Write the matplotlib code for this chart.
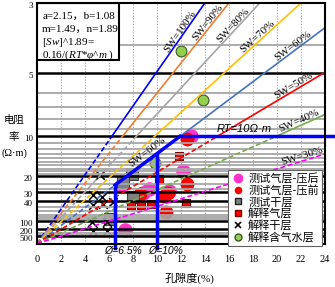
import numpy as np
import matplotlib.pyplot as plt
import matplotlib.transforms as mtransforms
from matplotlib.lines import Line2D

plt.rcParams['font.family'] = ['Liberation Serif', 'Noto Sans CJK SC']
plt.rcParams['mathtext.fontset'] = 'custom'
plt.rcParams['mathtext.rm'] = 'Liberation Serif'
plt.rcParams['mathtext.it'] = 'Liberation Serif:italic'

# 参数
a, b, m, n = 2.15, 1.08, 1.49, 1.89
ab = 0.16   # 图中公式: Sw^n = 0.16/(RT*phi^m)

# 含水饱和度线
sw_list = [1.0, 0.9, 0.8, 0.7, 0.6, 0.5, 0.4, 0.3]
sw_names = ['SW=100%', 'SW=90%', 'SW=80%', 'SW=70%', 'SW=60%', 'SW=50%', 'SW=40%', 'SW=30%']
sw_colors = ['#0000FF', '#ED7D31', '#A5A5A5', '#FFC000', '#4472C4', '#FF0000', '#70AD47', '#FF00FF']
sw_label_phi = [12.2, 14.5, 16.6, 18.6, 21.6, 21.6, 22.0, 22.2]

# y 轴刻度 / 网格 (电阻率)
ytick_vals = [3, 5, 10, 20, 30, 40, 100, 200, 500]
black_grid = [5, 10, 20, 30, 40, 100, 200, 500]
gray_grid = [4, 6, 7, 8, 9, 11, 12, 13, 14, 15, 16, 17, 18, 19, 24, 27,
             50, 60, 70, 80, 90, 300, 400]

# 测试气层-压后 (孔隙度 %, 电阻率)
yh_phi = [12.8, 12.2, 11.0, 7.0, 9.3, 8.8, 7.3]
yh_r = [10.0, 17.7, 29.0, 25.5, 27.0, 31.0, 210]
# 测试气层-压前
yq_phi = [12.5, 12.5, 10.9, 10.75, 8.6, 10.6]
yq_r = [10.3, 23.7, 30.9, 62.6, 32.0, 34.0]
# 测试干层
gc_phi = [7.9, 7.2, 8.0, 6.1]
gc_r = [19.2, 23.0, 34.8, 90.6]
# 解释气层
jq_phi = [11.8, 10.2, 12.4, 7.8, 8.7, 9.5]
jq_r = [13.6, 21.4, 43.1, 45.0, 45.0, 44.0]
# 解释干层
jg_phi = [5.25, 4.67, 5.42, 6.33, 4.67, 5.5, 4.58, 5.83, 4.67, 5.83]
jg_r = [19.6, 32.7, 34.8, 41.1, 46.3, 44.6, 109, 109, 243, 243]
# 解释含气水层
jw_phi = [12.0, 13.8, 9.8]
jw_r = [4.18, 6.46, 15.4]

# 截止值
phi_cut1, phi_cut2, rt_cut, sw_cut = 6.5, 10, 10, 0.6


def ty(r):
    return np.asarray(r, dtype=float) ** (-1 / m)


def coef(sw):
    return (sw ** n / ab) ** (1 / m) / 100   # y = coef * phi(%)


fig = plt.figure(figsize=(3.35, 2.87), dpi=100)
ax = fig.add_axes([0.1104, 0.1512, 0.8597, 0.838])
ax.set_xlim(0, 24)
ax.set_ylim(0, float(ty(3)))

# 网格
for x in range(2, 24, 2):
    ax.axvline(x, color='#A0A0A0', ls=(0, (1, 1.5)), lw=0.8, zorder=1)

# 数据点
ax.scatter(yh_phi, ty(yh_r), s=110, c='#FF33CC', lw=0, zorder=2)
ax.scatter(yq_phi, ty(yq_r), s=100, c='#FF0000', lw=0, zorder=2.05)
ax.scatter(gc_phi, ty(gc_r), s=80, marker='s', c='#808080', edgecolors='#404040', lw=0.8, zorder=2.1)
ax.scatter(jq_phi, ty(jq_r), s=36, marker='s', c='#FF0000', edgecolors='#800000', lw=0.8, zorder=2.1)
ax.scatter(jg_phi, ty(jg_r), s=40, marker='x', c='black', lw=1.1, zorder=2.1)
ax.scatter(jw_phi, ty(jw_r), s=60, c='#92D050', edgecolors='#385723', lw=0.8, zorder=2.1)

for r in gray_grid:
    ax.axhline(ty(r), color='#A6A6A6', lw=1.3, zorder=2.2)
for r in black_grid:
    ax.axhline(ty(r), color='black', lw=1.8, zorder=2.3)

# 饱和度线: RT>10 段虚线, RT<10 段实线
y10 = float(ty(rt_cut))
for sw, name, col, lp in zip(sw_list, sw_names, sw_colors, sw_label_phi):
    k = coef(sw)
    p10 = y10 / k
    ax.plot([0, p10], [0, y10], color=col, lw=1.2, ls=(0, (3, 1.5)), zorder=2.5)
    ax.plot([p10, 24], [y10, k * 24], color=col, lw=1.2, zorder=2.5)
    p0 = ax.transData.transform((0, 0))
    p1 = ax.transData.transform((10, k * 10))
    ang = np.degrees(np.arctan2(p1[1] - p0[1], p1[0] - p0[0]))
    ax.text(lp, k * lp, name, rotation=ang, rotation_mode='anchor',
            ha='center', va='bottom', fontsize=8, zorder=3)

# 截止线
kc = coef(sw_cut)
ax.plot([phi_cut1, phi_cut1], [-0.008, kc * phi_cut1], color='#0000FF', lw=2.5, zorder=4, clip_on=False)
ax.plot([phi_cut2, phi_cut2], [-0.008, kc * phi_cut2], color='#0000FF', lw=2.5, zorder=4, clip_on=False)
ax.plot([phi_cut1, y10 / kc], [kc * phi_cut1, y10], color='#0000FF', lw=2.5, zorder=4)
ax.plot([y10 / kc, 24.7], [y10, y10], color='#0000FF', lw=2.5, zorder=4, clip_on=False)

p0 = ax.transData.transform((0, 0))
p1 = ax.transData.transform((10, kc * 10))
ang = np.degrees(np.arctan2(p1[1] - p0[1], p1[0] - p0[0]))
ax.text(9.4, kc * 9.4 + 0.006, 'SW=60%', rotation=ang, rotation_mode='anchor',
        ha='center', va='bottom', fontsize=8, zorder=5)
ax.text(17.3, y10 + 0.004, 'RT=10Ω·m', family='Liberation Sans', style='italic',
        ha='center', va='bottom', fontsize=8, zorder=5)
ax.text(7.2, -0.004, 'Ø=6.5%', family='Liberation Sans', style='italic',
        ha='center', va='top', fontsize=7.5, zorder=5)
ax.text(10.7, -0.004, 'Ø=10%', family='Liberation Sans', style='italic',
        ha='center', va='top', fontsize=7.5, zorder=5)

# 公式框
ax.add_patch(plt.Rectangle((0, 0.765), 0.285, 0.235, transform=ax.transAxes,
                           facecolor='white', edgecolor='black', lw=1.5, zorder=6))
ax.text(0.018, 0.946, 'a=2.15，b=1.08', transform=ax.transAxes, va='center', fontsize=8, zorder=7)
ax.text(0.018, 0.892, 'm=1.49，n=1.89', transform=ax.transAxes, va='center', fontsize=8, zorder=7)
ax.text(0.018, 0.838, r'[$Sw$]^1.89=', transform=ax.transAxes, va='center', fontsize=8, zorder=7)
ax.text(0.018, 0.784, r'0.16/($RT$*$\varphi$^$m$ )', transform=ax.transAxes, va='center', fontsize=8, zorder=7)

# 坐标轴
ax.set_xticks(range(0, 25, 2))
ax.set_yticks(ty(ytick_vals))
ax.set_yticklabels([str(v) for v in ytick_vals])
ax.tick_params(length=0, labelsize=7.5)
ax.tick_params(axis='y', labelsize=6.5)
ax.tick_params(axis='x', pad=8)
ax.tick_params(axis='y', pad=3)
shift = mtransforms.ScaledTranslation(0, -1.5 / 72, fig.dpi_scale_trans)
for lab in ax.get_yticklabels():
    lab.set_transform(lab.get_transform() + shift)
for sp in ax.spines.values():
    sp.set_linewidth(1.5)
    sp.set_zorder(8)

# y 轴标题 (三行分开写)
fig.text(0.042, 0.582, '电阻', ha='center', va='center', fontsize=7.5)
fig.text(0.042, 0.523, '率', ha='center', va='center', fontsize=7.5)
fig.text(0.042, 0.466, '(Ω·m)', ha='center', va='center', fontsize=7.5)
fig.text(0.567, 0.031, '孔隙度(%)', ha='center', va='center', fontsize=8)

handles = [
    Line2D([], [], ls='', marker='o', ms=6, mfc='#FF33CC', mec='#FF33CC'),
    Line2D([], [], ls='', marker='o', ms=4.5, mfc='#FF0000', mec='#FF0000'),
    Line2D([], [], ls='', marker='s', ms=4.5, mfc='#808080', mec='#202020'),
    Line2D([], [], ls='', marker='s', ms=5, mfc='#FF0000', mec='#800000'),
    Line2D([], [], ls='', marker='x', ms=5, mec='black', mew=1.2),
    Line2D([], [], ls='', marker='o', ms=5, mfc='#92D050', mec='#385723'),
]
labels = ['测试气层-压后', '测试气层-压前', '测试干层', '解释气层', '解释干层', '解释含气水层']
leg = ax.legend(handles, labels, loc='lower right', bbox_to_anchor=(0.99, -0.01),
                labelspacing=0.08, handletextpad=0.4, handlelength=1.1,
                borderpad=0.3, borderaxespad=0, fancybox=False, framealpha=1,
                edgecolor='#606060', prop={'family': ['Noto Sans CJK SC'], 'size': 8})
leg.set_zorder(9)
leg.get_frame().set_linewidth(0.8)

fig.savefig('out.png', dpi=100)
